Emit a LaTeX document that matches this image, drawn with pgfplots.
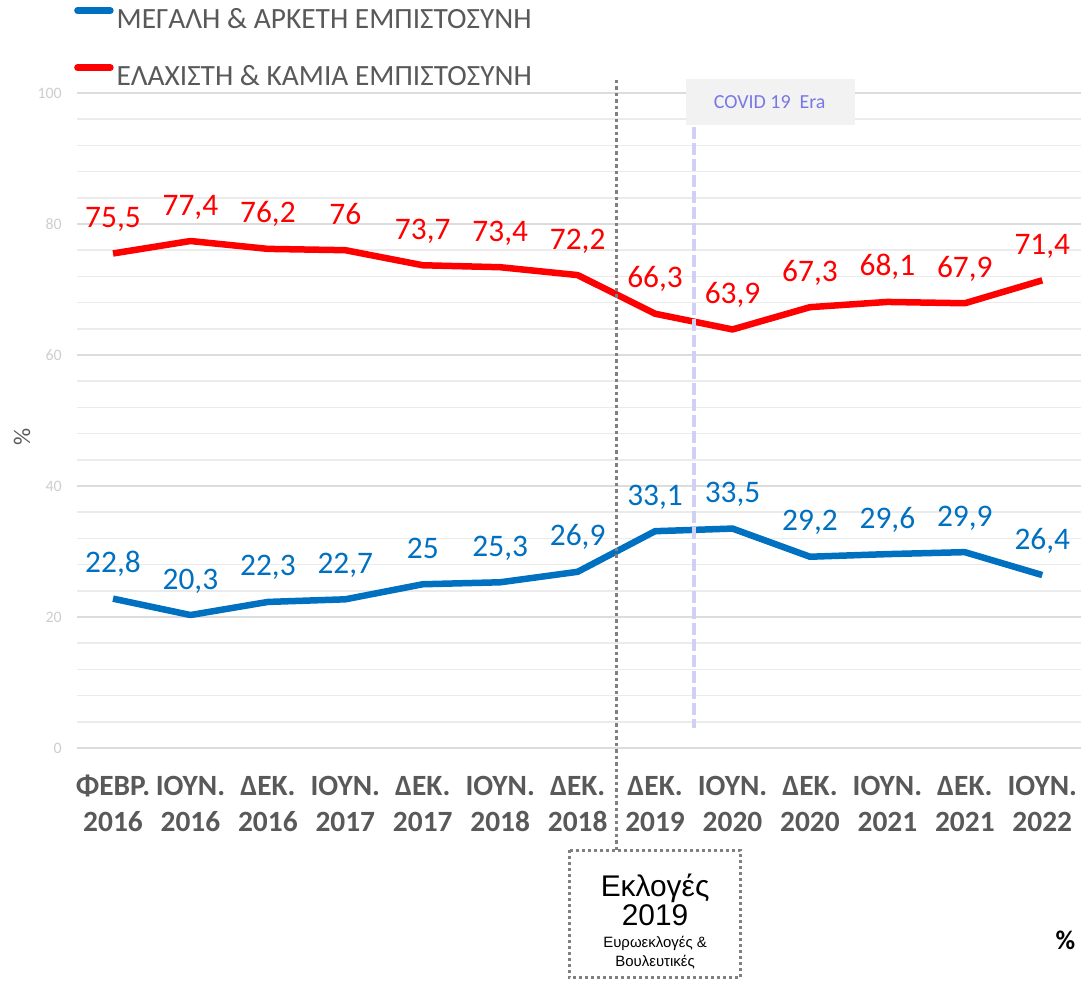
\documentclass[border=0pt]{standalone}
\usepackage{pgfplots}
\pgfplotsset{compat=1.18}
\usepackage{fontspec}
\setmainfont{Carlito}
\newfontfamily\boxfont{Liberation Sans}
\definecolor{myblue}{RGB}{0,112,192}
\definecolor{myred}{RGB}{255,0,0}
\definecolor{txtgray}{RGB}{89,89,89}
\definecolor{ticklight}{RGB}{205,205,205}
\definecolor{gridc}{RGB}{220,220,220}
\definecolor{gridm}{RGB}{235,235,235}
\definecolor{covidtxt}{RGB}{120,120,228}
\definecolor{covidline}{RGB}{208,208,245}
\definecolor{covidfill}{RGB}{242,242,242}
\definecolor{dotgray}{RGB}{128,128,128}

\pgfplotstableread{
x trust distrust
0 22.8 75.5
1 20.3 77.4
2 22.3 76.2
3 22.7 76.0
4 25.0 73.7
5 25.3 73.4
6 26.9 72.2
7 33.1 66.3
8 33.5 63.9
9 29.2 67.3
10 29.6 68.1
11 29.9 67.9
12 26.4 71.4
}\datatable

\begin{document}
\begin{tikzpicture}[x=1bp,y=1bp]
\path[use as bounding box] (-77,-233) rectangle (1004,748);
\begin{axis}[
  at={(0,0)}, anchor=south west,
  scale only axis, width=1004bp, height=655bp,
  xmin=-0.465, xmax=12.5, ymin=0, ymax=100,
  clip=false,
  axis line style={draw=none},
  tick style={draw=none},
  ytick={0,20,...,100},
  minor y tick num=4,
  ymajorgrids, yminorgrids,
  major grid style={gridc, line width=1.5bp},
  minor grid style={gridm, line width=1.5bp},
  xtick={0,...,12},
  xticklabels={{\strut ΦΕΒΡ.\\2016},{\strut ΙΟΥΝ.\\2016},{\strut ΔΕΚ.\\2016},{\strut ΙΟΥΝ.\\2017},{\strut ΔΕΚ.\\2017},{\strut ΙΟΥΝ.\\2018},{\strut ΔΕΚ.\\2018},{\strut ΔΕΚ.\\2019},{\strut ΙΟΥΝ.\\2020},{\strut ΔΕΚ.\\2020},{\strut ΙΟΥΝ.\\2021},{\strut ΔΕΚ.\\2021},{\strut ΙΟΥΝ.\\2022}},
  xticklabel style={align=center, font=\fontsize{29.5}{37}\selectfont\bfseries, text=txtgray, inner sep=0pt, yshift=-21bp},
  yticklabel style={font=\fontsize{16}{18}\selectfont, text=ticklight, inner sep=0pt, xshift=-15bp},
  /pgf/number format/.cd, use comma, 1000 sep={}, assume math mode=true, /pgfplots/.cd,
  ylabel={\%},
  ylabel style={at={(axis description cs:-0.0548,0.475)}, anchor=center, font=\fontsize{24}{28}\selectfont, text=txtgray},
  legend cell align=left,
  legend style={draw=none, fill=none, at={(axis description cs:-0.003,1.131)}, anchor=north west,
    font=\fontsize{29.5}{33}\selectfont, text=txtgray, row sep=34bp, inner sep=0pt,
    nodes={inner sep=0pt}, column sep=3bp},
  legend image code/.code={\draw[#1, line cap=round] (0bp,9bp) -- (33bp,9bp);},
]
\addplot[myblue, line width=6.5bp, line join=round, no markers,
  nodes near coords, point meta=y,
  every node near coord/.append style={text=myblue, font=\fontsize{31.5}{36}\selectfont, anchor=base, yshift=26bp}]
  table[x=x, y=trust] {\datatable};
\addlegendentry{ΜΕΓΑΛΗ \& ΑΡΚΕΤΗ ΕΜΠΙΣΤΟΣΥΝΗ}
\addplot[myred, line width=6.5bp, line join=round, no markers,
  nodes near coords, point meta=y,
  every node near coord/.append style={text=myred, font=\fontsize{31.5}{36}\selectfont, anchor=base, yshift=26bp}]
  table[x=x, y=distrust] {\datatable};
\addlegendentry{ΕΛΑΧΙΣΤΗ \& ΚΑΜΙΑ ΕΜΠΙΣΤΟΣΥΝΗ}

% Elections marker
\draw[dotgray, line width=3.5bp, dash pattern=on 3.5bp off 3bp] (axis cs:6.5,102) -- (axis cs:6.5,-15.6);
\draw[dotgray, line width=3bp, dash pattern=on 3bp off 3bp] (axis cs:5.89,-15.6) rectangle (axis cs:8.10,-35.1);
\node[anchor=base, inner sep=0pt, font=\boxfont\fontsize{30}{32}\selectfont] at (axis cs:7,-22.6) {Εκλογές};
\node[anchor=base, inner sep=0pt, font=\boxfont\fontsize{30}{32}\selectfont] at (axis cs:7,-27.1) {2019};
\node[anchor=base, inner sep=0pt, font=\boxfont\fontsize{15}{18}\selectfont] at (axis cs:7,-30.5) {Ευρωεκλογές \&};
\node[anchor=base, inner sep=0pt, font=\boxfont\fontsize{15}{18}\selectfont] at (axis cs:7,-33.3) {Βουλευτικές};

% COVID marker
\fill[covidfill] (axis cs:7.40,102.1) rectangle (axis cs:9.58,95.1);
\node[font=\fontsize{20}{24}\selectfont, text=covidtxt] at (axis cs:8.48,98.6) {COVID 19\ \ Era};
\draw[covidline, line width=4bp, dash pattern=on 12bp off 4bp] (axis cs:7.5,94.8) -- (axis cs:7.5,3.05);

% percent sign bottom right
\node[font=\fontsize{27}{30}\selectfont\bfseries, text=black] at (axis cs:12.3,-29.3) {\%};
\end{axis}
\end{tikzpicture}
\end{document}
